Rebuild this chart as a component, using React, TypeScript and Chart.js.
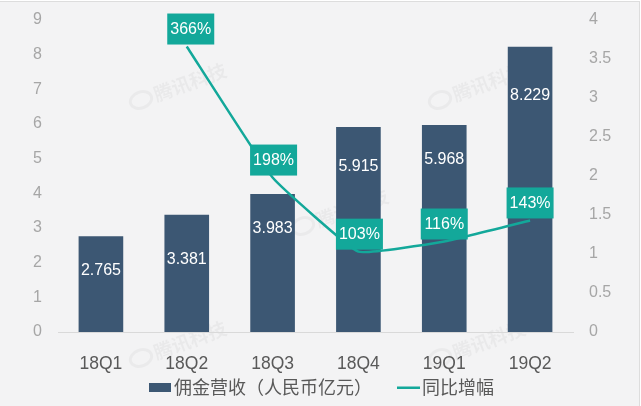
import { useEffect, useRef } from 'react';
import { Chart, registerables } from 'chart.js';

Chart.register(...registerables);

const quarters = ['18Q1', '18Q2', '18Q3', '18Q4', '19Q1', '19Q2'];
const commission = [2.765, 3.381, 3.983, 5.915, 5.968, 8.229];
const growth = [null, 3.66, 1.98, 1.03, 1.16, 1.43];
const growthLabels = ['', '366%', '198%', '103%', '116%', '143%'];
// the value labels were moved by hand in the original, px below the bar top
const labelDrop = [34, 45, 35, 40, 34, 49];
const growthNudge = [0, 4, 1, 1, 0, 0];

const BAR = '#3c5773';
const TEAL = '#13a89a';
const BG = '#f3f3f4';
const FONT = '"Liberation Sans", Arial, sans-serif';
const CJK = '"Noto Sans CJK SC", sans-serif';

const watermarks = [
    [141, 100],
    [440, 100],
    [303, 226],
    [141, 358],
    [440, 358],
];

const backdrop = {
    id: 'backdrop',
    beforeDraw(chart: any) {
        const { ctx, width, height } = chart;
        ctx.save();
        ctx.fillStyle = '#ffffff';
        ctx.fillRect(0, 0, width, height);
        ctx.fillStyle = BG;
        ctx.fillRect(0, 2, 639, height - 2);
        ctx.fillStyle = '#dddddd';
        ctx.fillRect(0, 1, 639, 1);
        ctx.fillRect(639, 1, 1, height - 1);
        // faint source watermark
        watermarks.forEach(([x, y]) => {
            ctx.save();
            ctx.translate(x, y);
            ctx.rotate(-0.35);
            ctx.strokeStyle = 'rgba(0,0,0,0.035)';
            ctx.lineWidth = 3;
            ctx.beginPath();
            ctx.ellipse(0, 0, 11, 8, 0, 0, Math.PI * 2);
            ctx.stroke();
            ctx.fillStyle = 'rgba(0,0,0,0.04)';
            ctx.font = `bold 19px ${CJK}`;
            ctx.textAlign = 'left';
            ctx.textBaseline = 'middle';
            ctx.fillText('腾讯科技', 14, 0);
            ctx.restore();
        });
        ctx.restore();
    },
};

const valueLabels = {
    id: 'valueLabels',
    afterDatasetsDraw(chart: any) {
        const { ctx } = chart;
        const x = chart.scales.x;
        const y = chart.scales.y;
        const y1 = chart.scales.y1;
        ctx.save();
        ctx.font = `16px ${FONT}`;
        ctx.textAlign = 'center';
        ctx.textBaseline = 'middle';
        ctx.fillStyle = '#ffffff';
        commission.forEach((v, i) => {
            ctx.fillText(v.toFixed(3), x.getPixelForValue(i), y.getPixelForValue(v) + labelDrop[i]);
        });
        growth.forEach((v, i) => {
            if (v === null) return;
            const cx = x.getPixelForValue(i) + growthNudge[i];
            const bottom = y1.getPixelForValue(v) - 2;
            ctx.fillStyle = TEAL;
            ctx.fillRect(cx - 23.5, bottom - 31, 47, 31);
            ctx.fillStyle = '#ffffff';
            ctx.fillText(growthLabels[i], cx, bottom - 15);
        });
        ctx.restore();
    },
};

const legendRow = {
    id: 'legendRow',
    afterDraw(chart: any) {
        const { ctx } = chart;
        const [line, bars] = chart.data.datasets;
        ctx.save();
        ctx.font = `18px ${CJK}`;
        ctx.textBaseline = 'middle';
        ctx.textAlign = 'left';
        ctx.fillStyle = BAR;
        ctx.fillRect(149, 383, 22, 9);
        ctx.fillStyle = TEAL;
        ctx.fillRect(397, 386.5, 23, 2.5);
        ctx.fillStyle = '#595959';
        ctx.fillText(bars.label, 174, 387);
        ctx.fillText(line.label, 422, 387);
        ctx.restore();
    },
};

const App = () => {
    const chartRef = useRef<HTMLCanvasElement | null>(null);

    useEffect(() => {
        const ctx = chartRef.current?.getContext('2d');
        if (!ctx) return;
        const myChart = new Chart(ctx, {
            type: 'bar',
            data: {
                labels: quarters,
                datasets: [
                    {
                        type: 'line',
                        label: '同比增幅',
                        data: growth,
                        yAxisID: 'y1',
                        borderColor: TEAL,
                        backgroundColor: TEAL,
                        borderWidth: 2.5,
                        pointRadius: 0,
                        tension: 0.1,
                        order: 1,
                    },
                    {
                        type: 'bar',
                        label: '佣金营收（人民币亿元）',
                        data: commission,
                        yAxisID: 'y',
                        backgroundColor: BAR,
                        barPercentage: 0.52,
                        categoryPercentage: 1,
                        order: 2,
                    },
                ],
            },
            options: {
                responsive: false,
                animation: false,
                layout: { padding: { top: 20, left: 0, right: 0, bottom: 0 } },
                plugins: { legend: { display: false }, tooltip: { enabled: false } },
                scales: {
                    x: {
                        grid: { display: false, drawTicks: false },
                        border: { color: '#d9d9d9' },
                        ticks: { padding: 22, color: '#595959', font: { family: FONT, size: 17.5 } },
                        afterFit: (s: any) => { s.height = 74; },
                    },
                    y: {
                        position: 'left',
                        min: 0,
                        max: 9,
                        grid: { display: false, drawTicks: false },
                        border: { display: false },
                        ticks: { stepSize: 1, padding: 16, color: '#a6a6a6', font: { family: FONT, size: 16 } },
                        afterFit: (s: any) => { s.width = 58; s.paddingTop = 0; },
                    },
                    y1: {
                        position: 'right',
                        min: 0,
                        max: 4,
                        grid: { display: false, drawTicks: false },
                        border: { display: false },
                        ticks: {
                            stepSize: 0.5,
                            padding: 16,
                            color: '#a6a6a6',
                            font: { family: FONT, size: 16 },
                            callback: (v: any) => String(v),
                        },
                        afterFit: (s: any) => { s.width = 68; s.paddingTop = 0; },
                    },
                },
            },
            plugins: [backdrop, valueLabels, legendRow],
        } as any);

        return () => {
            myChart.destroy();
        };
    }, []);

    return (
        <div style={{ position: 'fixed', left: 0, top: 0, width: 641, height: 406 }}>
            <canvas ref={chartRef} width={641} height={406} style={{ display: 'block' }} />
        </div>
    );
};

export default App;
